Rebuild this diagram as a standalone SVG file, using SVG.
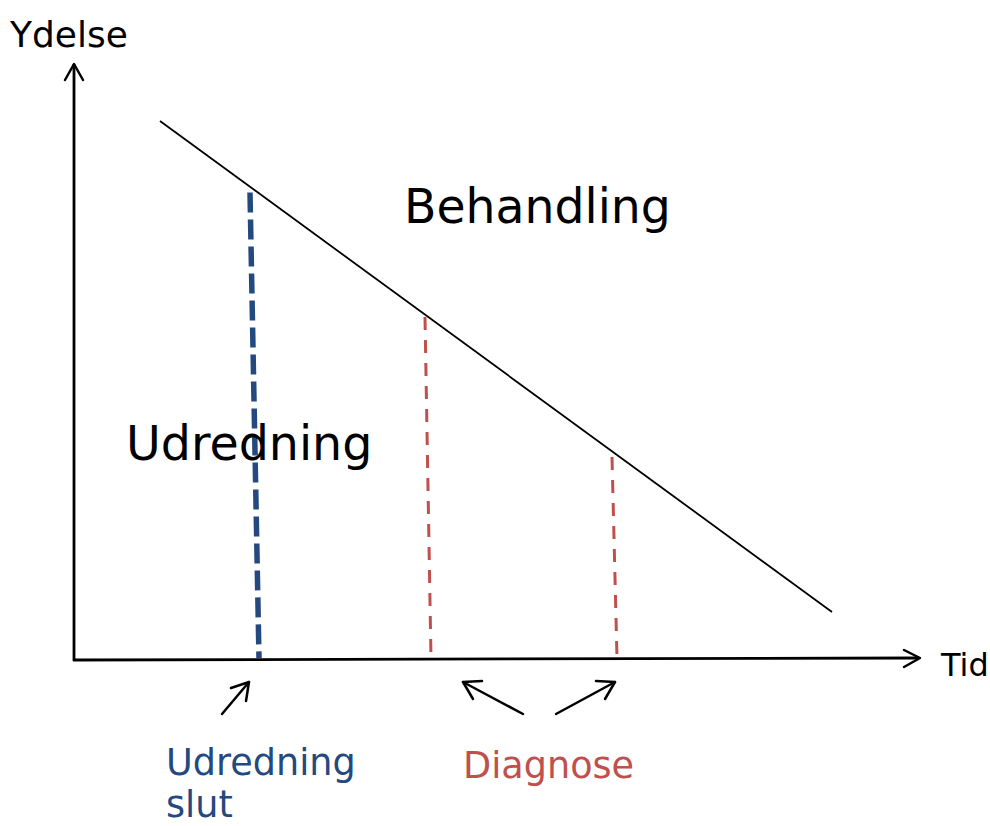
<svg xmlns="http://www.w3.org/2000/svg" width="990" height="826" viewBox="0 0 990 826">
<style>
text{font-family:"DejaVu Sans","Verdana",sans-serif;}
.ax{stroke:#000;stroke-width:2.8;fill:none;}
.ah{stroke:#000;stroke-width:2.5;fill:none;stroke-linecap:round;stroke-linejoin:round;}
.blue{stroke:#24497E;stroke-width:5.5;stroke-dasharray:20 7;fill:none;}
.red{stroke:#C0504D;stroke-width:3;stroke-dasharray:13 10;fill:none;}
</style>
<rect width="990" height="826" fill="#fff"/>
<g id="connectors">
<line class="ax" x1="74" y1="661" x2="74" y2="64"/>
<polyline class="ah" points="65,80 74,64 83,80"/>
<line class="ax" x1="73" y1="660" x2="919" y2="658"/>
<polyline class="ah" points="904,650 920,658 904,667"/>
<line x1="160" y1="121" x2="832" y2="612" stroke="#000" stroke-width="1.8"/>
<line class="blue" x1="250" y1="192.5" x2="259" y2="658"/>
<line class="red" x1="425" y1="317" x2="431" y2="658"/>
<line class="red" x1="612" y1="457" x2="617" y2="658"/>
<line class="ah" x1="222" y1="714" x2="249" y2="682"/>
<polyline class="ah" points="231,688 249,682 246,701"/>
<line class="ah" x1="523" y1="714" x2="463" y2="682"/>
<polyline class="ah" points="482,681 463,682 473,699"/>
<line class="ah" x1="556" y1="714" x2="615" y2="682"/>
<polyline class="ah" points="596,681 615,682 605,699"/>
</g>
<g id="label-ydelse"><text x="10" y="47" font-size="36">Ydelse</text></g>
<g id="label-tid"><text x="941" y="676" font-size="32">Tid</text></g>
<g id="label-behandling"><text x="404" y="223" font-size="47.3">Behandling</text></g>
<g id="label-udredning"><text x="126" y="460" font-size="47.5">Udredning</text></g>
<g id="label-udredning-slut"><text x="166" y="775" font-size="36.6" fill="#24497E">Udredning<tspan x="166" y="817">slut</tspan></text></g>
<g id="label-diagnose"><text x="463" y="778" font-size="36.6" fill="#C0504D">Diagnose</text></g>
</svg>
